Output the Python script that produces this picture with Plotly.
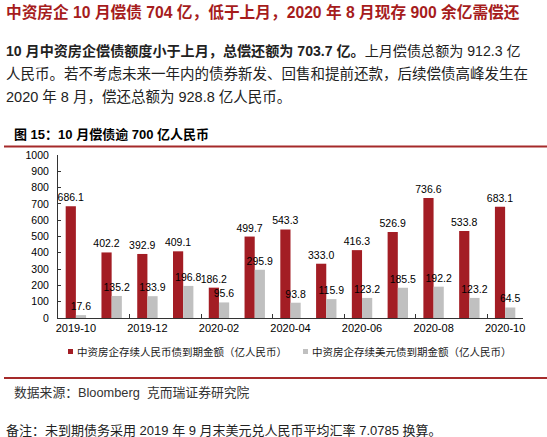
import plotly.graph_objects as go

# ---------------- data ----------------
months = ["2019-10", "2019-11", "2019-12", "2020-01", "2020-02", "2020-03", "2020-04",
          "2020-05", "2020-06", "2020-07", "2020-08", "2020-09", "2020-10"]
rmb_values = [686.1, 402.2, 392.9, 409.1, 186.2, 499.7, 543.3, 333.0, 416.3, 526.9, 736.6, 533.8, 683.1]
usd_values = [17.6, 135.2, 133.9, 196.8, 95.6, 295.9, 93.8, 115.9, 123.2, 185.5, 192.2, 123.2, 64.5]
series_names = ["中资房企存续人民币债到期金额（亿人民币）", "中资房企存续美元债到期金额（亿人民币）"]
y_ticks = [0, 100, 200, 300, 400, 500, 600, 700, 800, 900, 1000]

RED = "#A31D24"
GRAY = "#C0C0C0"
TITLE_RED = "#A61C1C"
FONT = "Liberation Sans, Noto Sans CJK SC, sans-serif"

W, H = 547, 437
ML, MR, MT, MB = 58, 24, 155, 119
PW, PH = W - ML - MR, H - MT - MB


def px(x):
    return (x - ML) / PW


def py(y):
    return (H - MB - y) / PH


xpos = list(range(len(months)))

fig = go.Figure()
for vals, color, name in [(rmb_values, RED, series_names[0]), (usd_values, GRAY, series_names[1])]:
    fig.add_trace(go.Bar(
        x=xpos, y=vals, name=name, marker=dict(color=color, line=dict(width=0)),
        text=[f"{v:.1f}" for v in vals], textposition="outside", constraintext="none",
        cliponaxis=False, textfont=dict(family=FONT, size=10.5, color="#000"),
        showlegend=False,
    ))

fig.update_layout(
    width=W, height=H,
    margin=dict(l=ML, r=MR, t=MT, b=MB, pad=0),
    paper_bgcolor="white", plot_bgcolor="white",
    barmode="group", bargap=0.43, bargroupgap=0,
    font=dict(family=FONT, color="#000"),
    xaxis=dict(
        range=[-0.5, len(months) - 0.5], tickmode="array",
        tickvals=xpos[::2], ticktext=months[::2], ticks="",
        showline=True, linecolor="#333", linewidth=1, showgrid=False, zeroline=False,
        tickfont=dict(family=FONT, size=11, color="#000"),
        minor=dict(tickmode="array", tickvals=[i + 1.5 for i in xpos[::2][:-1]],
                   ticks="inside", ticklen=4, tickcolor="#333", showgrid=False),
    ),
    yaxis=dict(
        range=[0, 1000], tickmode="array", tickvals=y_ticks,
        ticks="inside", ticklen=3, tickcolor="#333",
        showline=True, linecolor="#333", linewidth=1, showgrid=False, zeroline=False,
        tickfont=dict(family=FONT, size=10.5, color="#000"), ticklabelstandoff=6,
    ),
)

ann = []


def add_text(x, y, text, size, color="#000", bold=False):
    ann.append(dict(x=px(x), y=py(y), xref="paper", yref="paper", xanchor="left", yanchor="middle",
                    text=(f"<b>{text}</b>" if bold else text), showarrow=False,
                    font=dict(family=FONT, size=size, color=color), align="left"))


add_text(4, 12, "中资房企 10 月偿债 704 亿，低于上月，2020 年 8 月现存 900 余亿需偿还", 15.7, TITLE_RED, True)
add_text(4, 51, "<b>10 月中资房企偿债额度小于上月，总偿还额为 703.7 亿。</b>上月偿债总额为 912.3 亿", 14.1, "#222")
add_text(4, 74, "人民币。若不考虑未来一年内的债券新发、回售和提前还款，后续偿债高峰发生在", 14.5, "#222")
add_text(4, 97, "2020 年 8 月，偿还总额为 928.8 亿人民币。", 14.5, "#222")
add_text(12, 134, "图 15：10 月偿债逾 700 亿人民币", 13, "#000", True)
add_text(75, 351.5, series_names[0], 10.5, "#222")
add_text(310, 351.5, series_names[1], 10.5, "#222")
add_text(12, 392, "数据来源：Bloomberg  克而瑞证券研究院", 12.8, "#333")
add_text(4, 430, "备注：未到期债务采用 2019 年 9 月末美元兑人民币平均汇率 7.0785 换算。", 13, "#222")

shapes = []
for x0, c in [(68, RED), (303, GRAY)]:
    shapes.append(dict(type="rect", xref="paper", yref="paper", x0=px(x0), x1=px(x0 + 5),
                       y0=py(354), y1=py(349), fillcolor=c, line=dict(width=0)))
for yy in [146.5, 378]:
    shapes.append(dict(type="line", xref="paper", yref="paper", x0=px(4), x1=px(547),
                       y0=py(yy), y1=py(yy), line=dict(color="#A52A2A", width=2)))

fig.update_layout(annotations=ann, shapes=shapes)
fig.write_html("out.html")
